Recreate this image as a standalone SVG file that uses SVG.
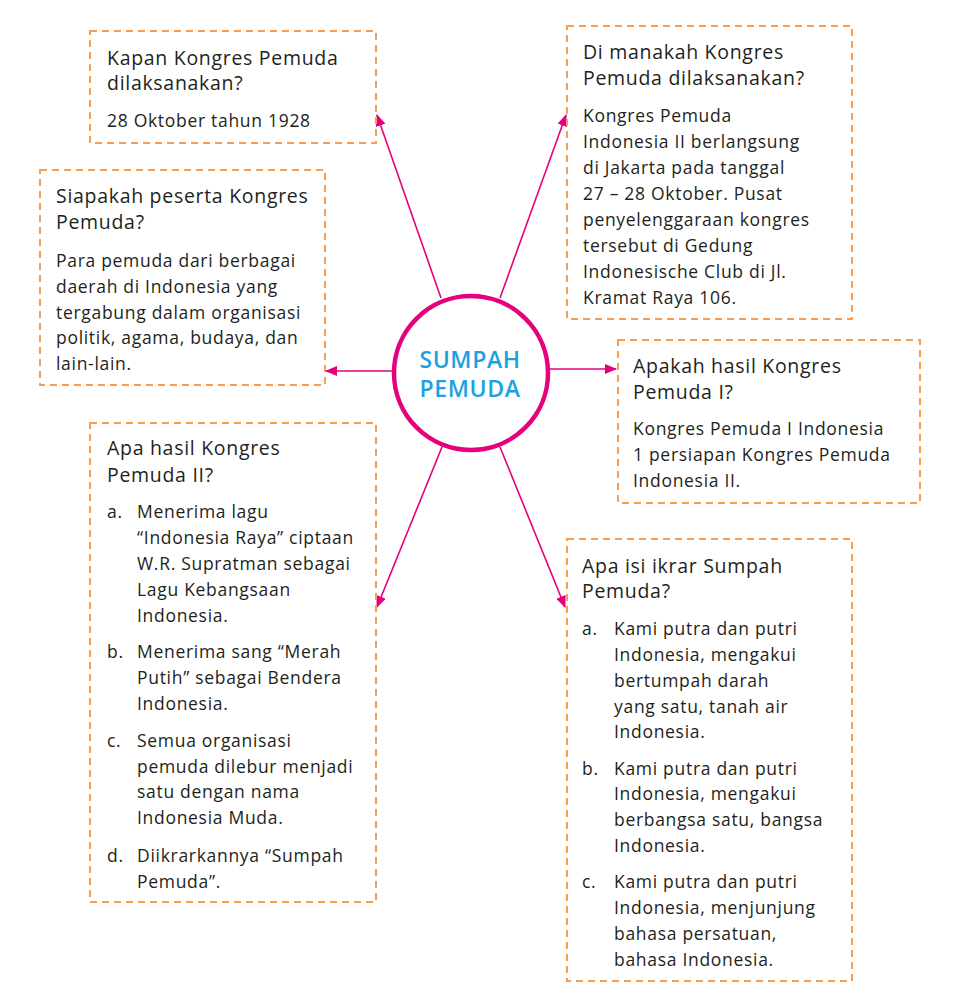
<svg xmlns="http://www.w3.org/2000/svg" width="979" height="1001" viewBox="0 0 979 1001">
<style>
.box{fill:#fff;stroke:#f6a04d;stroke-width:2;stroke-dasharray:7 5}
.t{font-family:"Open Sans","Liberation Sans",sans-serif;fill:#231f20;letter-spacing:0.7px}
.q{font-size:19.5px}
.a{font-size:17.5px}
.ln{stroke:#e6007e;stroke-width:1.6;fill:none}
.c{font-family:"Open Sans","Liberation Sans",sans-serif;font-size:23px;font-weight:600;fill:#1ba1e2;letter-spacing:0.6px}
</style>
<defs>
<marker id="ah" markerUnits="userSpaceOnUse" markerWidth="12" markerHeight="10" refX="11" refY="5" orient="auto">
<path d="M0,0 L12,5 L0,10 Z" fill="#e6007e"/>
</marker>
</defs>
<rect width="979" height="1001" fill="#fff"/>
<g id="connectors">
<line class="ln" x1="441" y1="298" x2="377" y2="115" marker-end="url(#ah)"/>
<line class="ln" x1="500" y1="298" x2="566" y2="115" marker-end="url(#ah)"/>
<line class="ln" x1="394" y1="371" x2="326" y2="371" marker-end="url(#ah)"/>
<line class="ln" x1="549" y1="369" x2="616" y2="369" marker-end="url(#ah)"/>
<line class="ln" x1="442" y1="447" x2="377" y2="607" marker-end="url(#ah)"/>
<line class="ln" x1="500" y1="447" x2="565" y2="607" marker-end="url(#ah)"/>
</g>
<g id="center">
<circle cx="471" cy="373" r="77" fill="#fff" stroke="#e6007e" stroke-width="4.5"/>
<text class="c" x="470" y="368" text-anchor="middle">SUMPAH</text>
<text class="c" x="470" y="397" text-anchor="middle">PEMUDA</text>
</g>
<g id="kapan">
<rect class="box" x="90" y="31" width="286" height="112"/>
<text class="t q" x="107" y="65">Kapan Kongres Pemuda</text>
<text class="t q" x="107" y="90">dilaksanakan?</text>
<text class="t a" x="107" y="127">28 Oktober tahun 1928</text>
</g>
<g id="siapakah">
<rect class="box" x="40" y="170" width="285" height="215"/>
<text class="t q" x="56" y="203">Siapakah peserta Kongres</text>
<text class="t q" x="56" y="229">Pemuda?</text>
<text class="t a" x="56" y="267">Para pemuda dari berbagai</text>
<text class="t a" x="56" y="293">daerah di Indonesia yang</text>
<text class="t a" x="56" y="319">tergabung dalam organisasi</text>
<text class="t a" x="56" y="344">politik, agama, budaya, dan</text>
<text class="t a" x="56" y="370">lain-lain.</text>
</g>
<g id="dimanakah">
<rect class="box" x="567" y="26" width="285" height="293"/>
<text class="t q" x="583" y="59">Di manakah Kongres</text>
<text class="t q" x="583" y="85">Pemuda dilaksanakan?</text>
<text class="t a" x="583" y="122">Kongres Pemuda</text>
<text class="t a" x="583" y="148">Indonesia II berlangsung</text>
<text class="t a" x="583" y="174">di Jakarta pada tanggal</text>
<text class="t a" x="583" y="200">27 – 28 Oktober. Pusat</text>
<text class="t a" x="583" y="226">penyelenggaraan kongres</text>
<text class="t a" x="583" y="252">tersebut di Gedung</text>
<text class="t a" x="583" y="278">Indonesische Club di Jl.</text>
<text class="t a" x="583" y="304">Kramat Raya 106.</text>
</g>
<g id="apakah">
<rect class="box" x="618" y="340" width="302" height="163"/>
<text class="t q" x="633" y="373">Apakah hasil Kongres</text>
<text class="t q" x="633" y="399">Pemuda I?</text>
<text class="t a" x="633" y="435">Kongres Pemuda I Indonesia</text>
<text class="t a" x="633" y="461">1 persiapan Kongres Pemuda</text>
<text class="t a" x="633" y="487">Indonesia II.</text>
</g>
<g id="hasil2">
<rect class="box" x="90" y="423" width="286" height="479"/>
<text class="t q" x="107" y="455">Apa hasil Kongres</text>
<text class="t q" x="107" y="482">Pemuda II?</text>
<text class="t a" x="107" y="518">a.</text>
<text class="t a" x="137" y="518">Menerima lagu</text>
<text class="t a" x="137" y="544">“Indonesia Raya” ciptaan</text>
<text class="t a" x="137" y="570">W.R. Supratman sebagai</text>
<text class="t a" x="137" y="596">Lagu Kebangsaan</text>
<text class="t a" x="137" y="622">Indonesia.</text>
<text class="t a" x="107" y="658">b.</text>
<text class="t a" x="137" y="658">Menerima sang “Merah</text>
<text class="t a" x="137" y="684">Putih” sebagai Bendera</text>
<text class="t a" x="137" y="710">Indonesia.</text>
<text class="t a" x="107" y="747">c.</text>
<text class="t a" x="137" y="747">Semua organisasi</text>
<text class="t a" x="137" y="773">pemuda dilebur menjadi</text>
<text class="t a" x="137" y="798">satu dengan nama</text>
<text class="t a" x="137" y="824">Indonesia Muda.</text>
<text class="t a" x="107" y="862">d.</text>
<text class="t a" x="137" y="862">Diikrarkannya “Sumpah</text>
<text class="t a" x="137" y="888">Pemuda”.</text>
</g>
<g id="isi">
<rect class="box" x="567" y="539" width="285" height="442"/>
<text class="t q" x="582" y="573">Apa isi ikrar Sumpah</text>
<text class="t q" x="582" y="598">Pemuda?</text>
<text class="t a" x="582" y="635">a.</text>
<text class="t a" x="614" y="635">Kami putra dan putri</text>
<text class="t a" x="614" y="661">Indonesia, mengakui</text>
<text class="t a" x="614" y="687">bertumpah darah</text>
<text class="t a" x="614" y="713">yang satu, tanah air</text>
<text class="t a" x="614" y="738">Indonesia.</text>
<text class="t a" x="582" y="775">b.</text>
<text class="t a" x="614" y="775">Kami putra dan putri</text>
<text class="t a" x="614" y="800">Indonesia, mengakui</text>
<text class="t a" x="614" y="826">berbangsa satu, bangsa</text>
<text class="t a" x="614" y="852">Indonesia.</text>
<text class="t a" x="582" y="888">c.</text>
<text class="t a" x="614" y="888">Kami putra dan putri</text>
<text class="t a" x="614" y="914">Indonesia, menjunjung</text>
<text class="t a" x="614" y="940">bahasa persatuan,</text>
<text class="t a" x="614" y="966">bahasa Indonesia.</text>
</g>
</svg>
